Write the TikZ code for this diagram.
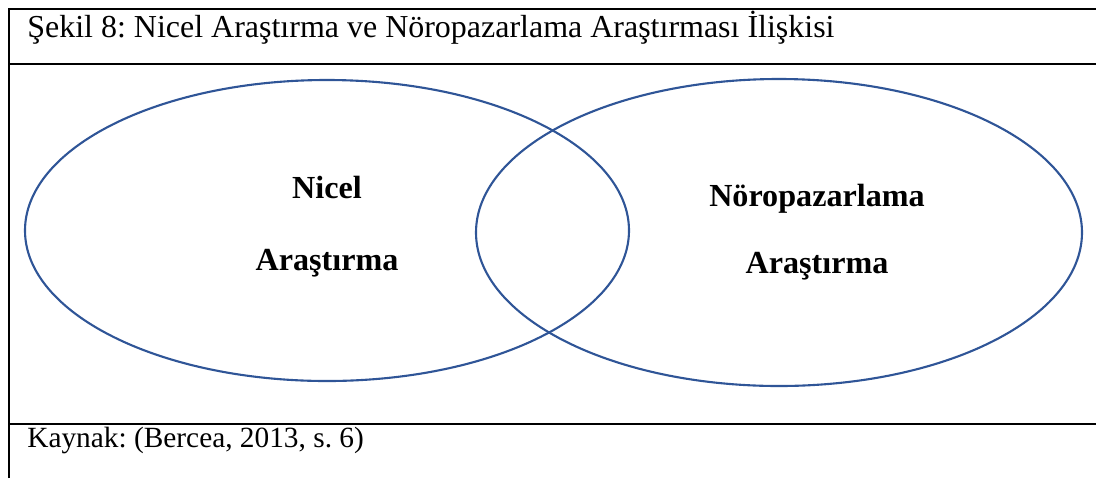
\documentclass[tikz,border=0pt]{standalone}
\usepackage{fontspec}
\setmainfont{Liberation Serif}
\frenchspacing
\definecolor{vennblue}{RGB}{47,85,151}
\tikzset{
  frameline/.style={line width=1.2pt, black},
  vennline/.style={line width=1.2pt, vennblue},
  captiontext/.style={anchor=base west, inner sep=0pt, font=\fontsize{18.2}{21}\selectfont},
  sourcetext/.style={anchor=base west, inner sep=0pt, font=\fontsize{16.7}{20}\selectfont},
  setlabel/.style={anchor=base, inner sep=0pt, font=\fontsize{18.3}{21}\selectfont\bfseries}
}
\begin{document}
\begin{tikzpicture}[x=0.02cm,y=-0.02cm]
	\useasboundingbox (0,0) rectangle (1096,478);
	
	% frame
	\draw[frameline] (9,478) -- (9,9) -- (1096,9);
	\draw[frameline] (9,64) -- (1096,64);
	\draw[frameline] (9,424) -- (1096,424);
	
	% caption and source
	\node[captiontext] (title) at (27,37) {Şekil 8: Nicel Araştırma ve Nöropazarlama Araştırması İlişkisi};
	\node[sourcetext] (source) at (27,447) {Kaynak: (Bercea, 2013, s. 6)};
	
	% sets
	\draw[vennline] (327,230.5) ellipse (302 and 150.5);
	\draw[vennline] (779,232.5) ellipse (303 and 153.5);
	
	% set labels
	\node[setlabel] (nicel1) at (327,198) {Nicel};
	\node[setlabel] (nicel2) at (327,270) {Araştırma};
	\node[setlabel] (noro1) at (817,206) {Nöropazarlama};
	\node[setlabel] (noro2) at (817,273) {Araştırma};
\end{tikzpicture}
\end{document}
